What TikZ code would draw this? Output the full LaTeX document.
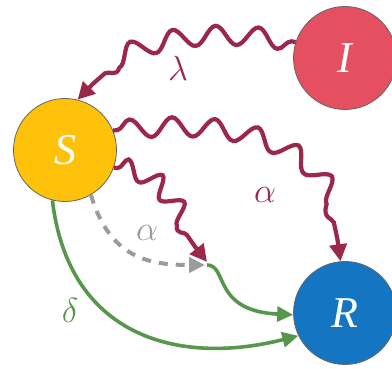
\documentclass[tikz,border=0pt]{standalone}
\usepackage{graphicx}
\usepackage{fontspec}
\newfontfamily\nodefont{Liberation Serif}
\usetikzlibrary{arrows.meta,decorations.pathmorphing}
\definecolor{wine}{RGB}{155,40,75}
\definecolor{ired}{RGB}{228,80,96}
\definecolor{sgold}{RGB}{255,194,10}
\definecolor{rblue}{RGB}{20,117,194}
\definecolor{egreen}{RGB}{88,150,78}
\definecolor{egray}{RGB}{155,155,155}
\newcommand{\labsym}[1]{\scalebox{1.4}{$#1$}}
\begin{document}
\begin{tikzpicture}[x=1pt,y=1pt,
  state/.style={circle,draw=black!60,line width=0.8pt,minimum size=103pt,inner sep=0pt,text=white,font=\nodefont\itshape\fontsize{44}{44}\selectfont},
  wavy/.style={wine,line width=4.2pt,-{Triangle[length=17pt,width=17pt]},decorate,
     decoration={snake,amplitude=9.5pt,segment length=42pt,post length=22pt,pre length=4pt}},
  greenarr/.style={egreen,line width=3.6pt,-{Triangle[length=16pt,width=15pt]}},
  grayarr/.style={egray,line width=4pt,dash pattern=on 9pt off 8pt,-{Triangle[length=16pt,width=15pt]}},
  lab/.style={font=\Huge}]
\useasboundingbox (0,0) rectangle (392,369);
\node[state,fill=ired] (I) at (345,311) {I};
\node[state,fill=sgold] (S) at (65,219) {S};
\node[state,fill=rblue] (R) at (345,56) {R};
\coordinate (M) at (207,104);
\draw[wavy] (I.162) .. controls (200,342) and (125,325) .. (S.76);
\draw[wavy] (S.22) .. controls (230,250) and (330,230) .. (R.95);
\draw[wavy,decoration={snake,amplitude=9.5pt,segment length=32pt,post length=20pt,pre length=4pt}] (S.-20) .. controls (160,200) and (170,150) .. ([yshift=3pt]M);
\draw[grayarr] (S.-60) .. controls (110,110) and (150,104) .. ([xshift=-2pt]M);
\draw[greenarr] (M) .. controls (228,104) and (212,58) .. (R.182);
\draw[greenarr] (S.-104) .. controls (68,35) and (175,2) .. (R.206);
\node[lab,text=wine] (lambda) at (178,301) {\labsym{\lambda}};
\node[lab,text=wine] (alpha1) at (265,174) {\labsym{\alpha}};
\node[lab,text=egray] (alpha2) at (147,136) {\labsym{\alpha}};
\node[lab,text=egreen] (delta) at (70,59) {\labsym{\delta}};
\end{tikzpicture}
\end{document}
